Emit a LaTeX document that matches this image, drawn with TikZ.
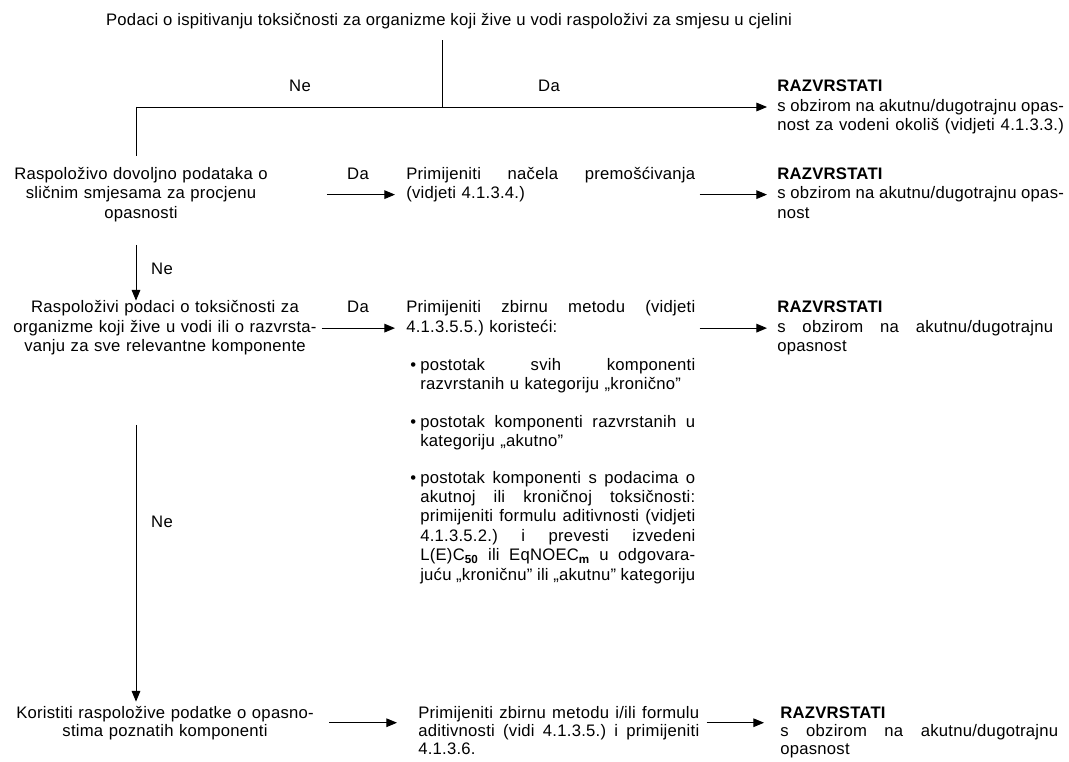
\documentclass[tikz,border=0pt]{standalone}
\usepackage{fontspec}
\setmainfont{Liberation Sans}[LetterSpace=1.5]
\usetikzlibrary{positioning,arrows.meta}
\newcommand\flowfont{\fontsize{12.5}{14.6}\selectfont\frenchspacing}
\newcommand\lowfont{\fontsize{12.5}{13.6}\selectfont\frenchspacing}
\newcommand\jl[1]{\makebox[\hsize][s]{\spaceskip=\fontdimen2\font plus 1fil minus .15em\relax #1}}
\tikzset{
  plain/.style={inner sep=0pt,font=\flowfont},
  lbox/.style={plain,text width=232.5pt,align=center},
  jbox/.style={plain,text width=216.75pt,align=left},
  bbox/.style={plain,text width=206.25pt,align=left},
  rbox/.style={plain,text width=215pt,align=left},
  arr/.style={-{Triangle[length=8pt,width=6.5pt]},line width=0.7pt},
  lin/.style={line width=0.7pt},
}

\begin{document}
\begin{tikzpicture}[x=0.75pt,y=-0.75pt]
  \useasboundingbox (0,0) rectangle (1069,762);
  % top question
  \node[plain,anchor=base] (top) at (449,26) {Podaci o ispitivanju toksičnosti za organizme koji žive u vodi raspoloživi za smjesu u cjelini};
  \node[plain,anchor=base] (ne0) at (300,92) {Ne};
  \node[plain,anchor=base] (da0) at (549,92) {Da};
  \node[rbox,anchor=base west] (r1) at (777,92) {\textbf{RAZVRSTATI}\\
    \jl{s obzirom na akutnu/dugotrajnu opas-}\\
    \jl{nost za vodeni okoliš (vidjeti 4.1.3.3.)}};
  \coordinate (split) at (442,107);
  \coordinate (lcorner) at (136,107);

  % row 1
  \node[lbox,anchor=base] (a) at (141,179.5) {Raspoloživo dovoljno podataka o\\ sličnim smjesama za procjenu\\ opasnosti};
  \node[plain,anchor=base] (da1) at (358,179.5) {Da};
  \node[jbox,anchor=base west] (b) at (406,179.5) {\jl{Primijeniti načela premošćivanja}\\ (vidjeti 4.1.3.4.)};
  \node[rbox,anchor=base west] (r2) at (777,179.5) {\textbf{RAZVRSTATI}\\
    \jl{s obzirom na akutnu/dugotrajnu opas-}\\ nost};

  % row 2
  \node[plain,anchor=base] (ne1) at (162,275) {Ne};
  \node[lbox,anchor=base] (c) at (165,313) {Raspoloživi podaci o toksičnosti za\\
    \mbox{organizme koji žive u vodi ili o razvrsta-}\\ vanju za sve relevantne komponente};
  \node[plain,anchor=base] (da2) at (358,313) {Da};
  \node[jbox,anchor=base west] (d) at (406,313) {\jl{Primijeniti zbirnu metodu (vidjeti}\\ 4.1.3.5.5.) koristeći:};
  \node[bbox,anchor=base west] (b1) at (420,370) {\llap{\textbullet\hspace{3pt}}\jl{postotak svih komponenti}\\
    razvrstanih u kategoriju „kronično”};
  \node[bbox,anchor=base west] (b2) at (420,427) {\llap{\textbullet\hspace{3pt}}\jl{postotak komponenti razvrstanih u}\\
    kategoriju „akutno”};
  \node[bbox,anchor=base west] (b3) at (420,483) {\llap{\textbullet\hspace{3pt}}\jl{postotak komponenti s podacima o}\\
    \jl{akutnoj ili kroničnoj toksičnosti:}\\
    \jl{primijeniti formulu aditivnosti (vidjeti}\\
    \jl{4.1.3.5.2.) i prevesti izvedeni}\\
    \jl{L(E)C\textsubscript{\bfseries 50} ili EqNOEC\textsubscript{\bfseries m} u odgovara-}\\
    \jl{juću „kroničnu” ili „akutnu” kategoriju}};
  \node[rbox,text width=207pt,anchor=base west] (r3) at (777,313) {\textbf{RAZVRSTATI}\\
    \jl{s obzirom na akutnu/dugotrajnu}\\ opasnost};

  % row 3
  \node[plain,anchor=base] (ne2) at (162,527) {Ne};
  \node[lbox,font=\lowfont,anchor=base] (e) at (165,718) {\mbox{Koristiti raspoložive podatke o opasno-}\\ stima poznatih komponenti};
  \node[jbox,font=\lowfont,text width=210.75pt,anchor=base west] (f) at (418,718) {\jl{Primijeniti zbirnu metodu i/ili formulu}\\
    \jl{aditivnosti (vidi 4.1.3.5.) i primijeniti}\\ 4.1.3.6.};
  \node[rbox,font=\lowfont,text width=208.5pt,anchor=base west] (r4) at (780,718) {\textbf{RAZVRSTATI}\\
    \jl{s obzirom na akutnu/dugotrajnu}\\ opasnost};

  % connectors
  \draw[lin,shorten <=8pt] (top.south -| split) -- (split);
  \draw[lin] (lcorner) -- (split);
  \draw[arr,shorten >=7.5pt] (split) -- (split -| r1.west);
  \draw[lin,shorten >=8pt] (lcorner) -- (lcorner |- a.north);
  \draw[arr,shorten <=23pt,shorten >=8.25pt] (a.east) -- (a.east -| b.west);
  \draw[arr,shorten <=3pt,shorten >=7.5pt] (a.east -| b.east) -- (a.east -| r2.west);
  \draw[arr,shorten <=17pt] (lcorner |- a.south) -- (lcorner |- c.north);
  \draw[arr,shorten <=1pt,shorten >=8.25pt] (c.east) -- (c.east -| d.west);
  \draw[arr,shorten <=3pt,shorten >=7.5pt] (c.east -| d.east) -- (c.east -| r3.west);
  \draw[arr,shorten <=52pt,shorten >=3pt] (lcorner |- c.south) -- (lcorner |- e.north);
  \draw[arr,shorten <=6.75pt,shorten >=15.75pt] (e.east) -- (e.east -| f.west);
  \draw[arr,shorten <=5.25pt,shorten >=12pt] (e.east -| f.east) -- (e.east -| r4.west);
\end{tikzpicture}
\end{document}
